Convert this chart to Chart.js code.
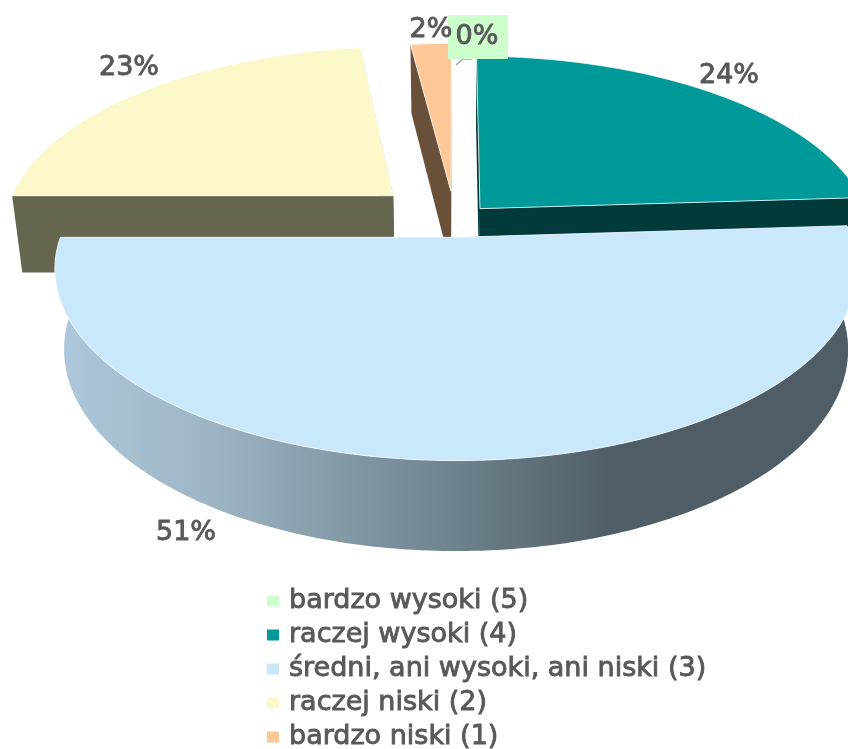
<!DOCTYPE html>
<html>
<head>
<meta charset="utf-8">
<style>
  html, body { margin: 0; padding: 0; background: #fff; }
  #wrap { width: 848px; height: 749px; overflow: hidden; }
</style>
</head>
<body>
<div id="wrap"><canvas id="chart" width="848" height="749"></canvas></div>
<script src="https://cdn.jsdelivr.net/npm/chart.js@4"></script>
<script>
const categories = ['bardzo wysoki (5)', 'raczej wysoki (4)', 'średni, ani wysoki, ani niski (3)', 'raczej niski (2)', 'bardzo niski (1)'];
const values = [0, 24, 51, 23, 2];
const topColors = ['#ccffcc', '#009999', '#cae8fb', '#fbf9c9', '#fdc896'];
const sideColors = ['#5f775f', '#003a3a', null, '#66654f', '#6a4f39'];
const explode = [0, 32, 30, 73, 57];

// the 3d view, the chart only gives us angles and radii
const view = { cx: 455, cy: 221, fx: 390, fy: 181, persp: 0.163, depthBase: 20, depthPersp: 58, shrink: 0.977 };
const valueLabelAt = [[477, 37], [729, 76], [186, 533], [129, 68], [431, 30]];
const drawOrder = [3, 4, 1, 0, 2];
const textColor = '#595959';
const labelFont = '27px "DejaVu Sans"';

function project(u, v) {
    const w = 1 - view.persp * v;
    return [view.cx + u * view.fx / w, view.cy + v * view.fy / w, w];
}

function dropDown(p) {
    return [view.cx + (p[0] - view.cx) * view.shrink, p[1] + view.depthBase + view.depthPersp / p[2]];
}

function slicePoints(arc) {
    const R = arc.outerRadius;
    const mid = (arc.startAngle + arc.endAngle) / 2;
    const off = arc.options.offset / R;
    const ox = Math.cos(mid) * off;
    const oy = Math.sin(mid) * off;
    const rim = [];
    const steps = Math.max(2, Math.ceil((arc.endAngle - arc.startAngle) * 60));
    for (let i = 0; i <= steps; i++) {
        const a = arc.startAngle + (arc.endAngle - arc.startAngle) * i / steps;
        rim.push(project(ox + Math.cos(a), oy + Math.sin(a)));
    }
    return { apex: project(ox, oy), rim: rim, nearSide: Math.sin(mid) > 0 };
}

function fillPoly(ctx, pts, fill, edge) {
    ctx.beginPath();
    pts.forEach((p, i) => i === 0 ? ctx.moveTo(p[0], p[1]) : ctx.lineTo(p[0], p[1]));
    ctx.closePath();
    ctx.fillStyle = fill;
    ctx.fill();
    if (edge) {
        ctx.strokeStyle = edge;
        ctx.lineWidth = 1;
        ctx.stroke();
    }
}

function boldText(ctx, text, x, y) {
    ctx.fillStyle = textColor;
    ctx.strokeStyle = textColor;
    ctx.lineWidth = 0.9;
    ctx.fillText(text, x, y);
    ctx.strokeText(text, x, y);
}

const pie3d = {
    id: 'pie3d',
    beforeDatasetsDraw(chart) {
        const ctx = chart.ctx;
        const arcs = chart.getDatasetMeta(0).data;

        const sideGrad = ctx.createLinearGradient(56, 0, 848, 0);
        sideGrad.addColorStop(0, '#adc8dc');
        sideGrad.addColorStop(0.2, '#9db4c3');
        sideGrad.addColorStop(0.5, '#6e838e');
        sideGrad.addColorStop(0.7, '#4f5e66');
        sideGrad.addColorStop(1, '#4f5e66');

        drawOrder.forEach(i => {
            if (values[i] === 0) return;
            const s = slicePoints(arcs[i]);
            const side = sideColors[i] || sideGrad;
            const first = s.rim[0];
            const last = s.rim[s.rim.length - 1];
            fillPoly(ctx, [s.apex, first, dropDown(first), dropDown(s.apex)], side);
            fillPoly(ctx, [s.apex, last, dropDown(last), dropDown(s.apex)], side);
            // far slices never show their outer wall
            if (s.nearSide) fillPoly(ctx, s.rim.concat(s.rim.map(dropDown).reverse()), side);
            fillPoly(ctx, [s.apex].concat(s.rim), topColors[i], 'rgba(255,255,255,0.75)');
        });
        return false; // slices are painted above, skip the flat ones
    },
    afterDraw(chart) {
        const ctx = chart.ctx;

        // leader line of the 0% label
        ctx.strokeStyle = '#a6a6a6';
        ctx.lineWidth = 1.5;
        ctx.beginPath();
        ctx.moveTo(456, 65);
        ctx.lineTo(463, 59);
        ctx.lineTo(472, 59);
        ctx.stroke();

        ctx.fillStyle = topColors[0];
        ctx.fillRect(448, 15, 60, 44);

        ctx.font = labelFont;
        ctx.textAlign = 'center';
        ctx.textBaseline = 'middle';
        values.forEach((v, i) => {
            boldText(ctx, v + '%', valueLabelAt[i][0], valueLabelAt[i][1]);
        });

        // legend, one entry per row
        ctx.textAlign = 'left';
        categories.forEach((name, i) => {
            const y = 601 + i * 34;
            ctx.fillStyle = topColors[i];
            ctx.fillRect(267, y - 5.5, 12, 11);
            boldText(ctx, name, 289, y);
        });
    }
};

new Chart(document.getElementById('chart'), {
    type: 'pie',
    data: {
        labels: categories,
        datasets: [{
            data: values,
            backgroundColor: topColors,
            offset: explode,
            borderWidth: 0
        }]
    },
    options: {
        responsive: false,
        animation: false,
        plugins: {
            legend: { display: false },
            tooltip: { enabled: false }
        }
    },
    plugins: [pie3d]
});
</script>
</body>
</html>
